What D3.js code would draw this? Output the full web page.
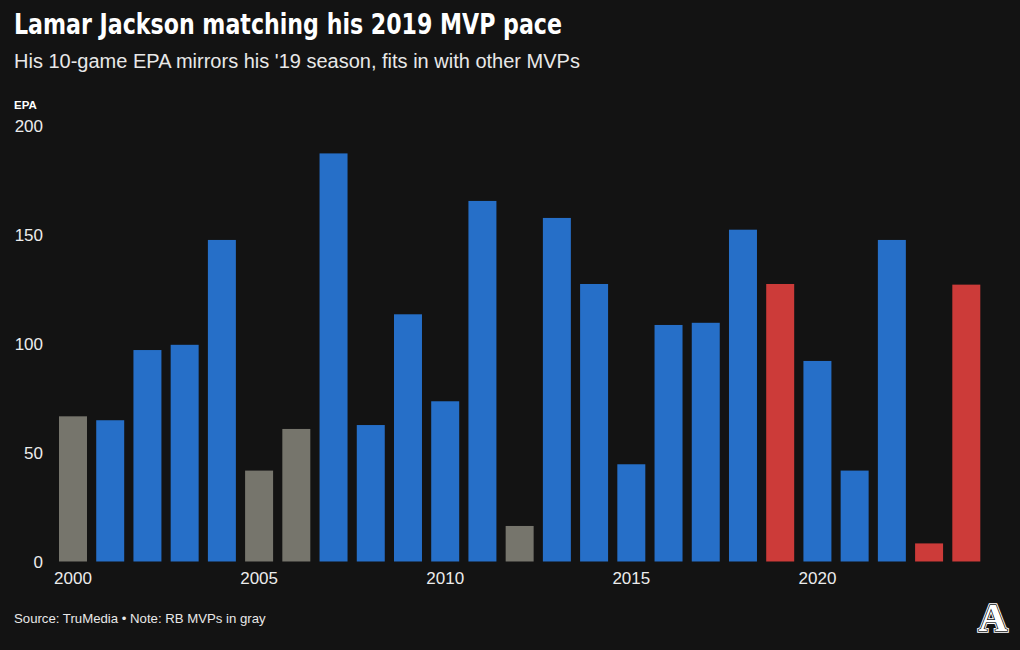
<!DOCTYPE html>
<html>
<head>
<meta charset="utf-8">
<script src="https://cdn.jsdelivr.net/npm/d3@7"></script>
<style>
  html, body { margin: 0; padding: 0; background: #131313; }
  svg { display: block; }
</style>
</head>
<body>
<svg id="chart" width="1020" height="650"></svg>
<script>
// ---- data ----
const years = [2000, 2001, 2002, 2003, 2004, 2005, 2006, 2007, 2008, 2009, 2010, 2011, 2012,
               2013, 2014, 2015, 2016, 2017, 2018, 2019, 2020, 2021, 2022, 2023, 2024];
const epa = [66.6, 64.8, 97.0, 99.4, 147.5, 41.7, 60.8, 187.2, 62.6, 113.4, 73.5, 165.4, 16.3,
             157.6, 127.3, 44.6, 108.5, 109.5, 152.2, 127.3, 92.0, 41.7, 147.5, 8.3, 127.0];
// group: "qb" = QB MVP, "rb" = RB MVP (gray), "lamar" = Lamar Jackson
const groups = ["rb", "qb", "qb", "qb", "qb", "rb", "rb", "qb", "qb", "qb", "qb", "qb", "rb",
                "qb", "qb", "qb", "qb", "qb", "qb", "lamar", "qb", "qb", "qb", "lamar", "lamar"];
const yTicks = [0, 50, 100, 150, 200];
const xTickYears = [2000, 2005, 2010, 2015, 2020];

const title = "Lamar Jackson matching his 2019 MVP pace";
const subtitle = "His 10-game EPA mirrors his '19 season, fits in with other MVPs";
const yLabel = "EPA";
const footer = "Source: TruMedia \u2022 Note: RB MVPs in gray";

const colors = { qb: "#266fc8", rb: "#76756c", lamar: "#cc3b39" };

const rows = years.map((y, i) => ({ year: y, value: epa[i], group: groups[i] }));

// ---- chart ----
const svg = d3.select("#chart");
const W = 1020, H = 650;
svg.append("rect").attr("width", W).attr("height", H).attr("fill", "#131313");

const x = d3.scaleBand()
  .domain(years)
  .range([59, 980.3])
  .paddingInner(0.248)
  .paddingOuter(0);

const y = d3.scaleLinear().domain([0, 200]).range([561.5, 125.5]);

// title & subtitle
svg.append("text")
  .attr("x", 14).attr("y", 34)
  .attr("fill", "#ffffff")
  .attr("font-family", "'Liberation Sans Narrow', 'DejaVu Sans Condensed', sans-serif")
  .attr("font-weight", "bold")
  .attr("font-size", 28)
  .attr("textLength", 548)
  .attr("lengthAdjust", "spacingAndGlyphs")
  .text(title);

svg.append("text")
  .attr("x", 14).attr("y", 68)
  .attr("fill", "#e8e8e8")
  .attr("font-family", "'Liberation Sans', Arial, sans-serif")
  .attr("font-size", 20)
  .text(subtitle);

// y label
svg.append("text")
  .attr("x", 14).attr("y", 109)
  .attr("fill", "#ffffff")
  .attr("font-family", "'Liberation Sans', Arial, sans-serif")
  .attr("font-weight", "bold")
  .attr("font-size", 11.5)
  .text(yLabel);

// bars
svg.append("g").selectAll("rect")
  .data(rows)
  .join("rect")
  .attr("x", d => x(d.year))
  .attr("y", d => y(d.value))
  .attr("width", x.bandwidth())
  .attr("height", d => y(0) - y(d.value))
  .attr("fill", d => colors[d.group]);

// y axis (labels only)
const yAxis = d3.axisLeft(y).tickValues(yTicks).tickSize(0).tickPadding(0).tickFormat(d3.format("d"));
const gy = svg.append("g").attr("transform", "translate(43,0)").call(yAxis);
gy.select(".domain").remove();
gy.selectAll("text")
  .attr("fill", "#ececec")
  .attr("font-family", "'Liberation Sans', Arial, sans-serif")
  .attr("font-size", 17)
  .attr("dy", "0.35em");

// x axis (labels only)
const xAxis = d3.axisBottom(x).tickValues(xTickYears).tickSize(0).tickPadding(0);
const gx = svg.append("g").attr("transform", "translate(0,572)").call(xAxis);
gx.select(".domain").remove();
gx.selectAll("text")
  .attr("fill", "#ececec")
  .attr("font-family", "'Liberation Sans', Arial, sans-serif")
  .attr("font-size", 17)
  .attr("dy", "0.71em");

// footer
svg.append("text")
  .attr("x", 14).attr("y", 623)
  .attr("fill", "#e8e8e8")
  .attr("font-family", "'Liberation Sans', Arial, sans-serif")
  .attr("font-size", 13.2)
  .text(footer);

// logo (inline serif A)
const logo = svg.append("g").attr("transform", "translate(993,631)");
const lf = "'Liberation Serif', 'DejaVu Serif', serif";
logo.append("text").attr("text-anchor", "middle").attr("font-family", lf).attr("font-weight", "bold")
  .attr("font-size", 40).attr("fill", "#ffffff").attr("stroke", "#ffffff").attr("stroke-width", 3.5)
  .attr("stroke-linejoin", "miter").text("A");
logo.append("text").attr("text-anchor", "middle").attr("font-family", lf).attr("font-weight", "bold")
  .attr("font-size", 40).attr("fill", "#131313").attr("stroke", "#131313").attr("stroke-width", 1.6)
  .attr("stroke-linejoin", "miter").text("A");
logo.append("text").attr("text-anchor", "middle").attr("font-family", lf).attr("font-weight", "bold")
  .attr("font-size", 40).attr("fill", "#ffffff").text("A");
</script>
</body>
</html>
